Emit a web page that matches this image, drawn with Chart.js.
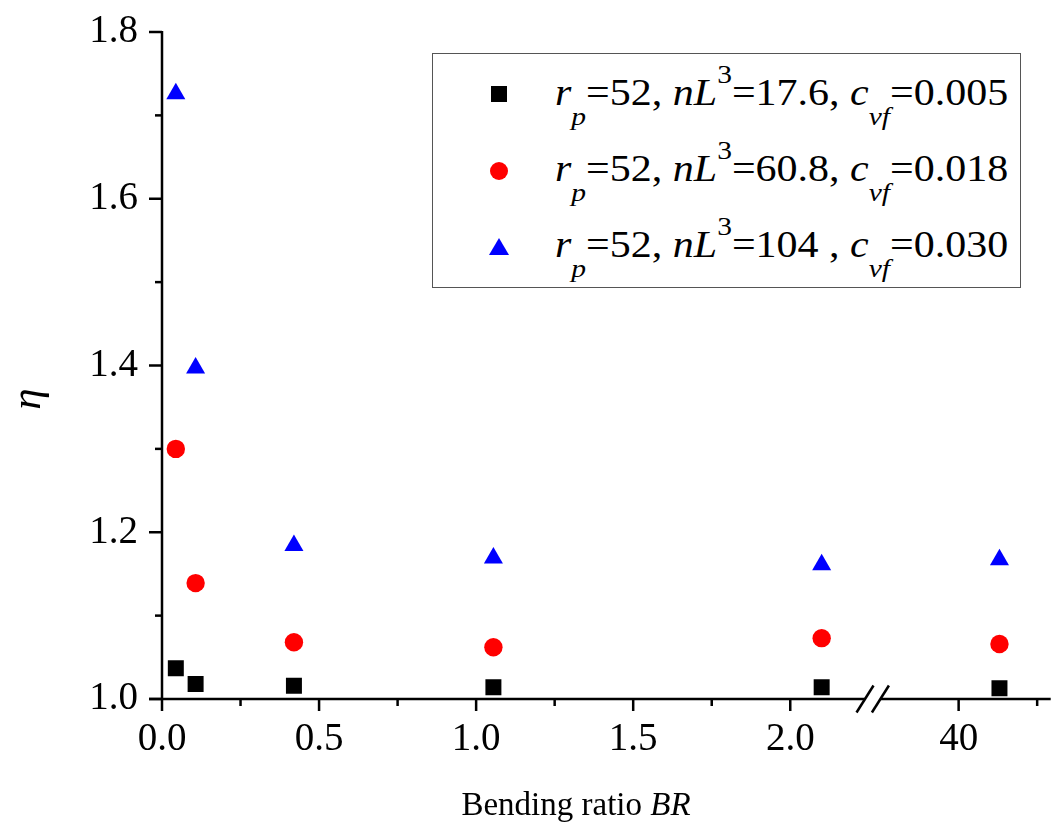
<!DOCTYPE html>
<html>
<head>
<meta charset="utf-8">
<script src="https://cdn.jsdelivr.net/npm/chart.js@4"></script>
<style>
html,body{margin:0;padding:0;background:#fff;}
#wrap{position:relative;width:1056px;height:832px;overflow:hidden;}
#c{position:absolute;left:0;top:0;}
.serif{font-family:"Liberation Serif","Times New Roman",serif;color:#000;}
#legend{position:absolute;left:432px;top:53px;width:589px;height:235px;border:1.5px solid #555;box-sizing:border-box;background:#fff;}
.row{position:absolute;left:122px;font-size:37px;line-height:40px;white-space:nowrap;transform-origin:0 50%;transform:scaleX(1.135);}
.row i{font-style:italic;}
.sub{font-size:26px;position:relative;top:20px;font-style:italic;}
.sup{font-size:26px;position:relative;top:-22px;}
.mk{position:absolute;}
#ylab{position:absolute;left:4px;top:377px;width:44px;height:44px;line-height:44px;text-align:center;font-size:43px;font-style:italic;transform:rotate(-90deg);}
#xlab{position:absolute;left:0;width:1152px;top:784px;text-align:center;font-size:33px;line-height:40px;}
</style>
</head>
<body>
<div id="wrap">
<canvas id="c" width="1056" height="832"></canvas>
<div id="legend" class="serif">
  <div class="mk" style="left:57.5px;top:31.5px;width:16px;height:16px;background:#000;"></div>
  <div class="row" style="top:19px;"><i>r</i><span class="sub">p</span>=52, <i>nL</i><span class="sup">3</span>=17.6, <i>c</i><span class="sub">vf</span>=0.005</div>
  <div class="mk" style="left:56.5px;top:107.5px;width:18px;height:18px;border-radius:50%;background:#f00;"></div>
  <div class="row" style="top:95px;"><i>r</i><span class="sub">p</span>=52, <i>nL</i><span class="sup">3</span>=60.8, <i>c</i><span class="sub">vf</span>=0.018</div>
  <div class="mk" style="left:55.5px;top:183.5px;width:0;height:0;border-left:10px solid transparent;border-right:10px solid transparent;border-bottom:17px solid #00f;"></div>
  <div class="row" style="top:171px;"><i>r</i><span class="sub">p</span>=52, <i>nL</i><span class="sup">3</span>=104 , <i>c</i><span class="sub">vf</span>=0.030</div>
</div>
<div id="ylab" class="serif">η</div>
<div id="xlab" class="serif">Bending ratio <i>BR</i></div>
</div>
<script>
// ---- data ----
const bendingRatio = [0.044, 0.107, 0.42, 1.055, 2.1, 41.3];
const etaLow  = [1.037, 1.018, 1.016, 1.014, 1.014, 1.013];   // rp=52, nL3=17.6, cvf=0.005
const etaMid  = [1.300, 1.139, 1.068, 1.062, 1.073, 1.066];   // rp=52, nL3=60.8, cvf=0.018
const etaHigh = [1.726, 1.397, 1.184, 1.169, 1.161, 1.167];   // rp=52, nL3=104, cvf=0.030
const xTickValues = [0, 0.5, 1.0, 1.5, 2.0, 40];
const xTickLabels = ["0.0", "0.5", "1.0", "1.5", "2.0", "40"];
const xMinorValues = [0.25, 0.75, 1.25, 1.75, 42.5];
const yTickValues = [1.0, 1.2, 1.4, 1.6, 1.8];
const yTickLabels = ["1.0", "1.2", "1.4", "1.6", "1.8"];
const yMinorValues = [1.1, 1.3, 1.5, 1.7];

// broken x axis: segment [0, 2.3] linear, then segment starting at 40
const SEG2_START = 40, SEG2_AXIS = 2.536, SEG2_SCALE = 0.1;
const BREAK_A = 2.238, BREAK_B = 2.287;
function toAxis(v){ return v <= 5 ? v : SEG2_AXIS + (v - SEG2_START) * SEG2_SCALE; }

const FONT = '"Liberation Serif","Times New Roman",serif';

const axesPlugin = {
  id: 'axesPlugin',
  afterDraw(chart){
    const {ctx, chartArea: a, scales: {x, y}} = chart;
    ctx.save();
    ctx.strokeStyle = '#000';
    ctx.lineWidth = 2.5;
    ctx.lineCap = 'butt';
    const yb = y.getPixelForValue(1.0);
    ctx.beginPath();
    ctx.moveTo(a.left, y.getPixelForValue(1.8) - 1);
    ctx.lineTo(a.left, yb);
    ctx.stroke();
    yTickValues.forEach(v => {
      const p = y.getPixelForValue(v);
      ctx.beginPath(); ctx.moveTo(a.left - 13, p); ctx.lineTo(a.left, p); ctx.stroke();
    });
    yMinorValues.forEach(v => {
      const p = y.getPixelForValue(v);
      ctx.beginPath(); ctx.moveTo(a.left - 7, p); ctx.lineTo(a.left, p); ctx.stroke();
    });
    const pa = x.getPixelForValue(BREAK_A), pb = x.getPixelForValue(BREAK_B);
    ctx.beginPath();
    ctx.moveTo(a.left - 13, yb); ctx.lineTo(pa, yb);
    ctx.moveTo(pb, yb); ctx.lineTo(a.right + 6, yb);
    ctx.stroke();
    [pa, pb].forEach(p => {
      ctx.beginPath(); ctx.moveTo(p - 8.5, yb + 13.5); ctx.lineTo(p + 8.5, yb - 13.5); ctx.stroke();
    });
    xTickValues.forEach(v => {
      const p = x.getPixelForValue(toAxis(v));
      ctx.beginPath(); ctx.moveTo(p, yb); ctx.lineTo(p, yb + 12); ctx.stroke();
    });
    xMinorValues.forEach(v => {
      const p = x.getPixelForValue(toAxis(v));
      ctx.beginPath(); ctx.moveTo(p, yb); ctx.lineTo(p, yb + 7); ctx.stroke();
    });
    ctx.restore();
  }
};

const mk = arr => bendingRatio.map((v, i) => ({x: toAxis(v), y: arr[i]}));

new Chart(document.getElementById('c'), {
  type: 'scatter',
  data: {
    datasets: [
      {label: 'rp=52, nL3=17.6, cvf=0.005', data: mk(etaLow), pointStyle: 'rect', pointRadius: 11.3, backgroundColor: '#000', borderWidth: 0, showLine: false},
      {label: 'rp=52, nL3=60.8, cvf=0.018', data: mk(etaMid), pointStyle: 'circle', pointRadius: 9.2, backgroundColor: '#f00', borderWidth: 0, showLine: false},
      {label: 'rp=52, nL3=104 , cvf=0.030', data: mk(etaHigh), pointStyle: 'triangle', pointRadius: 11, backgroundColor: '#00f', borderWidth: 0, showLine: false}
    ]
  },
  options: {
    responsive: false,
    animation: false,
    devicePixelRatio: 1,
    layout: {padding: {left: 0, right: 6, top: 32, bottom: 0}},
    plugins: {legend: {display: false}, tooltip: {enabled: false}},
    scales: {
      x: {
        type: 'linear', min: 0, max: 2.81,
        grid: {display: false, drawTicks: true, tickLength: 12},
        border: {display: false},
        ticks: {autoSkip: false, maxRotation: 0, padding: 5, color: '#000', font: {family: FONT, size: 39},
          callback: (val, i) => xTickLabels[i]},
        afterBuildTicks: s => { s.ticks = xTickValues.map(v => ({value: toAxis(v)})); },
        afterFit: s => { s.height = 133; s.paddingLeft = 0; s.paddingRight = 0; }
      },
      y: {
        type: 'linear', min: 1.0, max: 1.8,
        grid: {display: false, drawTicks: true, tickLength: 13},
        border: {display: false},
        ticks: {autoSkip: false, padding: 11, color: '#000', font: {family: FONT, size: 39},
          callback: (val, i) => yTickLabels[i]},
        afterBuildTicks: s => { s.ticks = yTickValues.map(v => ({value: v})); },
        afterFit: s => { s.width = 162; s.paddingTop = 0; s.paddingBottom = 0; }
      }
    }
  },
  plugins: [axesPlugin]
});
</script>
</body>
</html>
